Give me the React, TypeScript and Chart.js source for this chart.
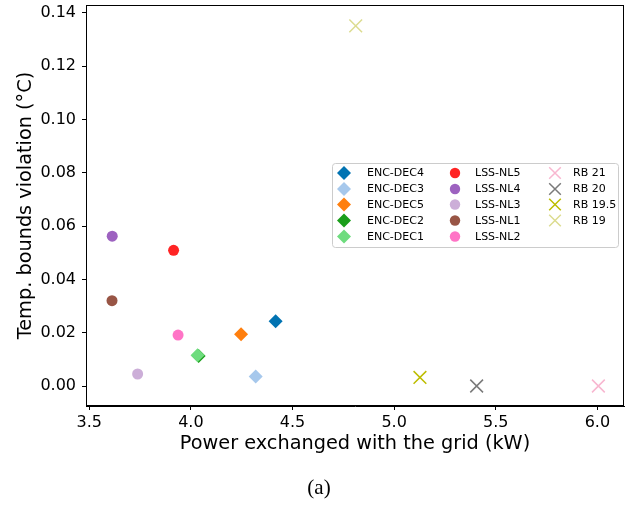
import React, { useEffect, useRef } from "react";
import { Chart, registerables } from "chart.js";

Chart.register(...registerables);

const seriesNames = [
  "ENC-DEC4", "ENC-DEC3", "ENC-DEC5", "ENC-DEC2", "ENC-DEC1",
  "LSS-NL5", "LSS-NL4", "LSS-NL3", "LSS-NL1", "LSS-NL2",
  "RB 21", "RB 20", "RB 19.5", "RB 19",
];
const powerValues = [
  4.417, 4.319, 4.247, 4.038, 4.033,
  3.915, 3.613, 3.738, 3.612, 3.937,
  6.005, 5.406, 5.127, 4.811,
];
const violationValues = [
  0.0243, 0.0036, 0.0194, 0.0113, 0.0115,
  0.0509, 0.0562, 0.0045, 0.0320, 0.0191,
  0.0, 0.0, 0.0032, 0.1351,
];
const seriesColors = [
  "#0173b2", "#a6c8ec", "#ff7f0e", "#1a9e1a", "#6edc7e",
  "#ff2424", "#9d62c0", "#ccaed8", "#985545", "#ff74c6",
  "#f8b7d0", "#7a7a7a", "#bdbd00", "#dcdc90",
];
const seriesMarkers = [
  "rectRot", "rectRot", "rectRot", "rectRot", "rectRot",
  "circle", "circle", "circle", "circle", "circle",
  "crossRot", "crossRot", "crossRot", "crossRot",
];
const xTicks = [3.5, 4.0, 4.5, 5.0, 5.5, 6.0];
const yTicks = [0.0, 0.02, 0.04, 0.06, 0.08, 0.1, 0.12, 0.14];
const xTitle = "Power exchanged with the grid (kW)";
const yTitle = "Temp. bounds violation (°C)";
const caption = "(a)";

const FONT = "'DejaVu Sans', sans-serif";

function markerRadius(m: string) {
  if (m === "rectRot") return 7;
  if (m === "circle") return 5.5;
  return 9;
}

function zeroPad(s: any) {
  s.paddingLeft = 0;
  s.paddingRight = 0;
  s.paddingTop = 0;
  s.paddingBottom = 0;
}

const framePlugin = {
  id: "frame",
  afterDatasetsDraw(chart: any) {
    const { ctx, chartArea } = chart;
    ctx.save();
    ctx.strokeStyle = "#000";
    ctx.lineWidth = 1;
    ctx.strokeRect(
      Math.round(chartArea.left) + 0.5,
      Math.round(chartArea.top) + 0.5,
      Math.round(chartArea.right - chartArea.left) - 1,
      Math.round(chartArea.bottom - chartArea.top) - 1
    );
    ctx.restore();
  },
};

const legendPlugin = {
  id: "customLegend",
  afterDraw(chart: any) {
    const { ctx } = chart;
    const bx = 332.5, by = 163.5, bw = 286, bh = 84;
    ctx.save();
    ctx.fillStyle = "rgba(255,255,255,0.8)";
    ctx.strokeStyle = "#cccccc";
    ctx.lineWidth = 1;
    ctx.beginPath();
    (ctx as any).roundRect(bx, by, bw, bh, 3);
    ctx.fill();
    ctx.stroke();
    const colMarkerX = [344, 455, 555];
    const colTextX = [367, 475, 573];
    const rowY = [173, 189, 204.5, 220.5, 236.5];
    const perCol = [5, 5, 4];
    let idx = 0;
    ctx.font = `11px ${FONT}`;
    ctx.textBaseline = "middle";
    ctx.textAlign = "left";
    for (let c = 0; c < 3; c++) {
      for (let r = 0; r < perCol[c]; r++) {
        const m = seriesMarkers[idx];
        const col = seriesColors[idx];
        const x = colMarkerX[c];
        const y = rowY[r];
        ctx.fillStyle = col;
        ctx.strokeStyle = col;
        if (m === "rectRot") {
          ctx.beginPath();
          ctx.moveTo(x - 7, y);
          ctx.lineTo(x, y - 7);
          ctx.lineTo(x + 7, y);
          ctx.lineTo(x, y + 7);
          ctx.closePath();
          ctx.fill();
        } else if (m === "circle") {
          ctx.beginPath();
          ctx.arc(x, y, 5.2, 0, Math.PI * 2);
          ctx.fill();
        } else {
          ctx.lineWidth = 1.5;
          const d = 5.8;
          ctx.beginPath();
          ctx.moveTo(x - d, y - d);
          ctx.lineTo(x + d, y + d);
          ctx.moveTo(x - d, y + d);
          ctx.lineTo(x + d, y - d);
          ctx.stroke();
        }
        ctx.fillStyle = "#000";
        ctx.fillText(seriesNames[idx], colTextX[c], y + 0.5);
        idx++;
      }
    }
    // caption
    ctx.font = "21px 'Liberation Serif', serif";
    ctx.textAlign = "center";
    ctx.textBaseline = "middle";
    ctx.fillStyle = "#000";
    ctx.fillText(caption, 319, 488);
    ctx.restore();
  },
};

export default function App() {
  const canvasRef = useRef<HTMLCanvasElement | null>(null);

  useEffect(() => {
    if (!canvasRef.current) return;
    const datasets = seriesNames.map((name, i) => {
      const m = seriesMarkers[i];
      const isCross = m === "crossRot";
      return {
        label: name,
        data: [{ x: powerValues[i], y: violationValues[i] }],
        pointStyle: m,
        pointRadius: markerRadius(m),
        pointHoverRadius: markerRadius(m),
        backgroundColor: seriesColors[i],
        borderColor: seriesColors[i],
        borderWidth: isCross ? 1.5 : 0,
        order: -i,
      };
    });
    const chart = new Chart(canvasRef.current, {
      type: "scatter",
      data: { datasets: datasets as any },
      options: {
        animation: false,
        responsive: true,
        maintainAspectRatio: false,
        layout: { autoPadding: false, padding: { top: 5, right: 6, left: 0, bottom: 0 } },
        plugins: {
          legend: { display: false },
          tooltip: { enabled: false },
        },
        scales: {
          x: {
            type: "linear",
            min: 3.484,
            max: 6.131,
            afterFit: (s: any) => { s.height = 101; zeroPad(s); },
            afterBuildTicks: (s: any) => { s.ticks = xTicks.map((v) => ({ value: v })); },
            grid: {
              drawOnChartArea: false,
              drawTicks: true,
              tickLength: 4,
              color: "#000",
              tickColor: "#000",
            },
            border: { display: true, color: "#000", width: 1 },
            ticks: {
              color: "#000",
              font: { family: FONT, size: 16 },
              padding: 3,
              maxRotation: 0,
              callback: (v: any) => Number(v).toFixed(1),
            },
            title: {
              display: true,
              text: xTitle,
              color: "#000",
              font: { family: FONT, size: 19.3, lineHeight: 1.2 },
              padding: { top: 0, bottom: 51 },
            },
          },
          y: {
            type: "linear",
            min: -0.0075,
            max: 0.1429,
            afterFit: (s: any) => { s.width = 86; zeroPad(s); },
            afterBuildTicks: (s: any) => { s.ticks = yTicks.map((v) => ({ value: v })); },
            grid: {
              drawOnChartArea: false,
              drawTicks: true,
              tickLength: 4,
              color: "#000",
              tickColor: "#000",
            },
            border: { display: true, color: "#000", width: 1 },
            ticks: {
              color: "#000",
              font: { family: FONT, size: 16 },
              padding: 6,
              callback: (v: any) => Number(v).toFixed(2),
            },
            title: {
              display: true,
              text: yTitle,
              color: "#000",
              font: { family: FONT, size: 19.3, lineHeight: 1.2 },
              padding: { top: 14.5, bottom: 0 },
            },
          },
        },
      },
      plugins: [framePlugin, legendPlugin],
    });
    return () => chart.destroy();
  }, []);

  return (
    <div style={{ position: "fixed", left: 0, top: 0, width: 630, height: 507, background: "#fff" }}>
      <canvas ref={canvasRef} />
    </div>
  );
}
